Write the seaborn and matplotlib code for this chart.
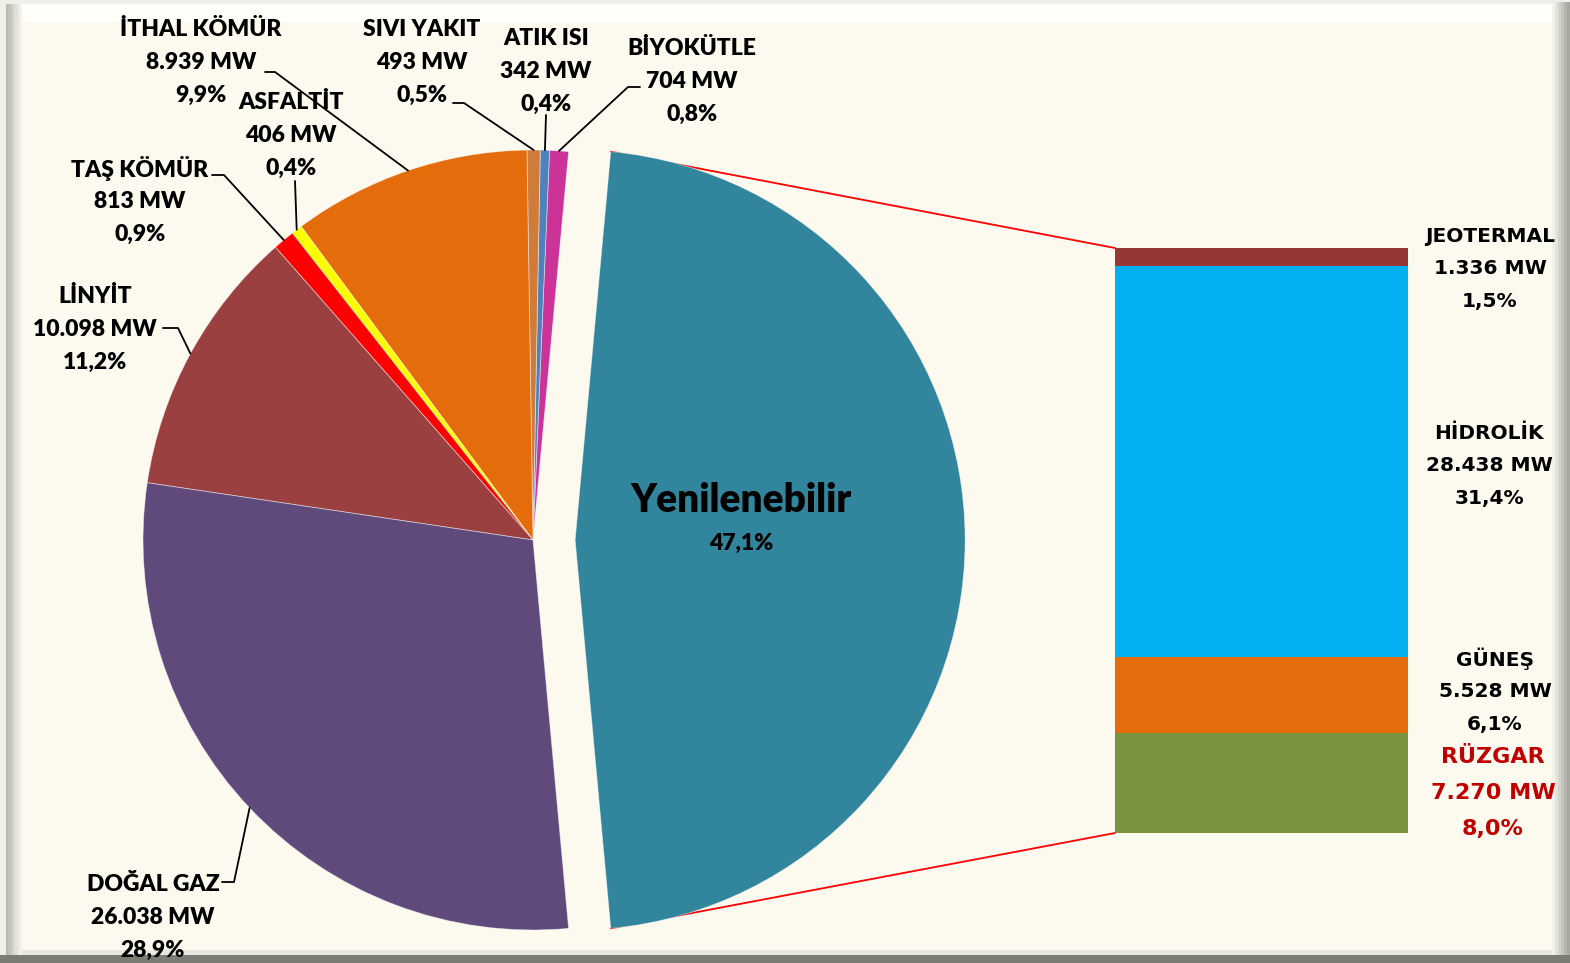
import matplotlib
matplotlib.use('Agg')
import matplotlib.pyplot as plt
from matplotlib import font_manager as fm
from matplotlib.patches import Rectangle
import numpy as np
import seaborn as sns

# pie part (order: counter-clockwise, starting with the exploded renewable slice)
pie_names = ['Yenilenebilir', 'BİYOKÜTLE', 'ATIK ISI', 'SIVI YAKIT', 'İTHAL KÖMÜR',
             'ASFALTİT', 'TAŞ KÖMÜR', 'LİNYİT', 'DOĞAL GAZ']
pie_mw = [42572, 704, 342, 493, 8939, 406, 813, 10098, 26038]
pie_mw_text = ['', '704 MW', '342 MW', '493 MW', '8.939 MW', '406 MW', '813 MW',
               '10.098 MW', '26.038 MW']
pie_pct_text = ['47,1%', '0,8%', '0,4%', '0,5%', '9,9%', '0,4%', '0,9%', '11,2%', '28,9%']
pie_colors = ['#31859C', '#CC3399', '#4F81BD', '#CF7B3A', '#E46C0A',
              '#FFFF00', '#FF0000', '#9A4040', '#604A7B']

# bar part (bottom to top)
bar_names = ['RÜZGAR', 'GÜNEŞ', 'HİDROLİK', 'JEOTERMAL']
bar_mw = [7270, 5528, 28438, 1336]
bar_mw_text = ['7.270 MW', '5.528 MW', '28.438 MW', '1.336 MW']
bar_pct_text = ['8,0%', '6,1%', '31,4%', '1,5%']
bar_colors = ['#77933C', '#E46C0A', '#00B0F0', '#953735']

W, H = 1570, 963
BG = '#FCFAEF'

sns.set_theme(style='white')
names = {f.name for f in fm.fontManager.ttflist}
main_font = 'Lato' if 'Lato' in names else 'DejaVu Sans'
plt.rcParams['font.family'] = [main_font, 'DejaVu Sans']


def Y(y):
    return H - y


fig = plt.figure(figsize=(W / 100, H / 100), dpi=100)
fig.patch.set_facecolor('#F4F4EE')
ax = fig.add_axes([0, 0, 1, 1])
ax.set_facecolor('none')

# frame / bevel
ax.add_patch(Rectangle((0, 0), W, H, color='#F0F0EA', zorder=0, lw=0))
for i, c in enumerate(['#B8B8B0', '#C2C2BA', '#CDCDC5', '#D8D8D0', '#E2E2DA', '#EBEBE3', '#F3F3EC']):
    ax.add_patch(Rectangle((6 + i * 2.3, 0), 2.3, Y(4), color=c, zorder=0, lw=0))
for i, c in enumerate(['#F2F2EA', '#E4E4DC', '#D4D4CC', '#C4C4BC', '#B4B4AC', '#A8A8A0']):
    ax.add_patch(Rectangle((1552 + i * 3, 0), 3, Y(2), color=c, zorder=0, lw=0))
ax.add_patch(Rectangle((22, Y(22)), 1530, 18, color='#FEFEFB', zorder=0, lw=0))
ax.add_patch(Rectangle((22, Y(950)), 1530, 950 - 22, color=BG, zorder=0, lw=0))
ax.add_patch(Rectangle((22, Y(955)), 1530, 5, color='#E8E8E0', zorder=0, lw=0))
ax.add_patch(Rectangle((0, 0), W, Y(955), color='#7C7C74', zorder=0, lw=0))

# pie
cx, cy, R = 533, 540, 390
explode = [0.108 * R] + [0] * (len(pie_mw) - 1)   # pie offsets are in data units
total = sum(pie_mw)
start = -pie_mw[0] / total * 360 / 2
wedges, _ = ax.pie(pie_mw, colors=pie_colors, startangle=start, counterclock=True,
                   explode=explode, center=(cx, Y(cy)), radius=R,
                   wedgeprops=dict(linewidth=0.6, edgecolor=(1, 1, 1, 0.5)))
for w in wedges:
    w.set_zorder(3)
ax.set_xlim(0, W)
ax.set_ylim(0, H)
ax.set_aspect('auto')
ax.axis('off')

# bar of the renewable slice
bx0, bx1, by0, by1 = 1115, 1408, 248, 833
bax = fig.add_axes([bx0 / W, Y(by1) / H, (bx1 - bx0) / W, (by1 - by0) / H])
bax.set_facecolor('none')
cum = np.cumsum(bar_mw)
for val, col in zip(cum[::-1], bar_colors[::-1]):
    sns.barplot(x=['Yenilenebilir'], y=[val], color=col, saturation=1, width=1,
                linewidth=0, ax=bax)
bax.set_xlim(-0.5, 0.5)
bax.set_ylim(0, cum[-1])
bax.axis('off')

# connector lines from the exploded slice corners to the bar (hidden under the pie)
ecx = cx + explode[0]
half = np.deg2rad(pie_mw[0] / total * 360 / 2)
ax.plot([ecx + R * np.cos(half), bx0], [Y(cy) + R * np.sin(half), Y(by0)],
        color='#FF0000', lw=1.3, zorder=2)
ax.plot([ecx + R * np.cos(half), bx0], [Y(cy) - R * np.sin(half), Y(by1)],
        color='#FF0000', lw=1.3, zorder=2)


def label(x, y0, lines, pitch=33, color='black', size=16.5, family=None,
          weight='heavy', **kw):
    for i, s in enumerate(lines):
        ax.text(x, Y(y0 + i * pitch), s, ha='center', va='center', color=color,
                fontsize=size, fontweight=weight, family=family, zorder=6, **kw)


# slice middles on the arc
angles = start + np.cumsum([0] + pie_mw[:-1]) / total * 360 + np.array(pie_mw) / total * 360 / 2


def arc_pt(k):
    a = np.deg2rad(angles[k])
    return cx + R * np.cos(a), Y(cy) + R * np.sin(a)


# label positions (center x, first line y) and leader start/elbow
pie_label_pos = {1: (692, 48), 2: (546, 38), 3: (422, 29), 4: (201, 29),
                 5: (291, 102), 6: (140, 168), 7: (95, 296), 8: (153, 884)}
leaders = {1: [(640, 87), (628, 87)], 2: [(546, 115)], 3: [(453, 103), (464, 103)],
           4: [(265, 72), (275, 72)], 5: [(295, 181)], 6: [(212, 175), (224, 175)],
           7: [(163, 328), (178, 328)], 8: [(222, 882), (234, 882)]}

for k, (x, y0) in pie_label_pos.items():
    label(x, y0, [pie_names[k], pie_mw_text[k], pie_pct_text[k]])
    pts = [(px, Y(py)) for px, py in leaders[k]] + [arc_pt(k)]
    xs, ys = zip(*pts)
    ax.plot(xs, ys, color='black', lw=1.3, zorder=5)

ax.text(741, Y(500), pie_names[0], ha='center', va='center', fontsize=28,
        fontweight='heavy', color='black', zorder=6)
ax.text(741, Y(543), pie_pct_text[0], ha='center', va='center', fontsize=16.5,
        fontweight='heavy', color='black', zorder=6)

# bar labels (top to bottom)
dv = ['DejaVu Sans']
label(1490, 236, [bar_names[3], bar_mw_text[3], bar_pct_text[3]], pitch=32.5, size=14.5,
      family=dv, weight='bold')
label(1489, 433, [bar_names[2], bar_mw_text[2], bar_pct_text[2]], pitch=32.5, size=14.5,
      family=dv, weight='bold')
label(1495, 659, [bar_names[1], bar_mw_text[1], bar_pct_text[1]], pitch=32.5, size=14.5,
      family=dv, weight='bold')
label(1493, 757, [bar_names[0], bar_mw_text[0], bar_pct_text[0]], pitch=36, size=16,
      family=dv, weight='bold', color='#C00000')

fig.savefig('out.png', dpi=100, facecolor=fig.get_facecolor())
